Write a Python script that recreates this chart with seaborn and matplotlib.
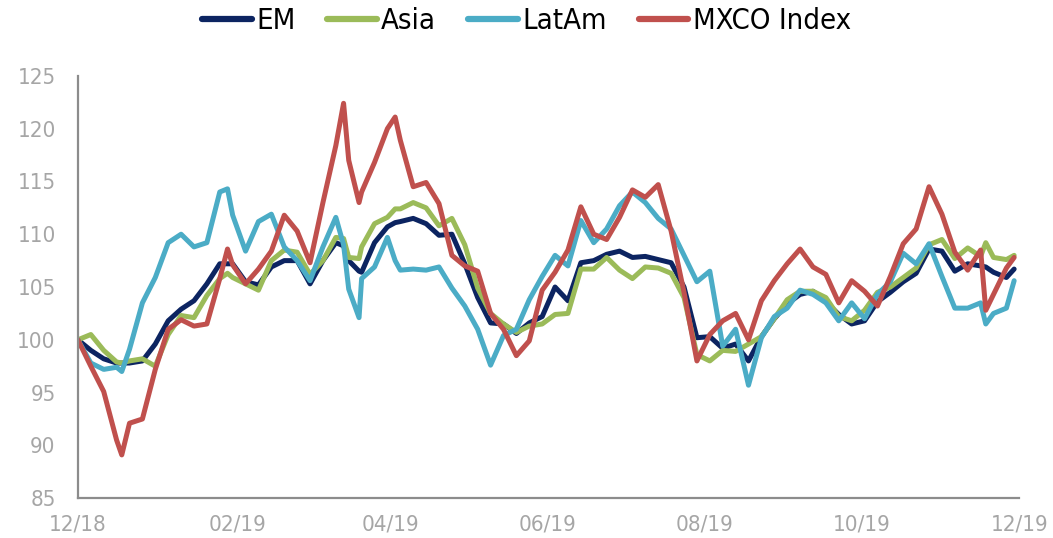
import pandas as pd
import seaborn as sns
import matplotlib.pyplot as plt
import matplotlib.dates as mdates
from matplotlib.lines import Line2D

# values (index, rebased to 100); days counted from 01-Dec-2018
day_offsets = [0, 5, 10, 15, 17, 20, 25, 30, 35, 40,
               45, 50, 55, 58, 60, 65, 70, 75, 80, 85,
               90, 95, 100, 103, 105, 109, 110, 115, 120, 123,
               125, 130, 135, 140, 145, 150, 155, 160, 165, 170,
               175, 180, 185, 190, 195, 200, 205, 210, 215, 220,
               225, 230, 235, 240, 245, 250, 255, 260, 265, 270,
               275, 280, 285, 290, 295, 300, 305, 310, 315, 320,
               325, 330, 335, 340, 345, 350, 352, 355, 360, 363]

em = [100.0, 99.0, 98.2, 97.8, 97.8, 97.8, 98.0, 99.6, 101.8, 102.9,
      103.7, 105.3, 107.2, 107.2, 107.2, 105.5, 105.2, 106.9, 107.5, 107.5,
      105.3, 107.5, 109.2, 108.9, 107.5, 106.5, 106.4, 109.2, 110.7, 111.1,
      111.2, 111.5, 111.0, 109.9, 110.0, 107.2, 104.0, 101.6, 101.5, 100.6,
      101.6, 102.2, 105.0, 103.7, 107.3, 107.5, 108.1, 108.4, 107.8, 107.9,
      107.6, 107.3, 105.0, 100.2, 100.3, 99.2, 99.6, 98.0, 100.3, 102.0,
      103.4, 104.3, 104.6, 103.6, 102.4, 101.5, 101.8, 103.6, 104.5, 105.5,
      106.3, 108.6, 108.4, 106.5, 107.2, 107.0, 106.9, 106.4, 105.9, 106.7]

asia = [100.0, 100.5, 99.0, 97.9, 97.8, 98.0, 98.2, 97.5, 100.5, 102.3,
        102.1, 104.2, 105.8, 106.3, 105.9, 105.3, 104.7, 107.5, 108.5, 108.3,
        106.2, 107.5, 109.7, 109.6, 107.8, 107.7, 108.8, 111.0, 111.6, 112.4,
        112.4, 113.0, 112.5, 110.8, 111.5, 109.0, 104.9, 102.5, 101.5, 100.7,
        101.3, 101.5, 102.4, 102.5, 106.7, 106.7, 107.8, 106.6, 105.8, 106.9,
        106.8, 106.3, 104.0, 98.6, 98.0, 99.0, 98.9, 99.6, 100.3, 102.0,
        103.8, 104.6, 104.6, 104.0, 102.2, 101.8, 102.8, 104.5, 105.0, 105.9,
        106.8, 109.0, 109.5, 107.7, 108.7, 107.9, 109.2, 107.8, 107.6, 108.0]

latam = [100.0, 97.8, 97.2, 97.4, 97.0, 99.1, 103.5, 105.9, 109.2, 110.0,
         108.8, 109.2, 114.0, 114.3, 111.8, 108.4, 111.2, 111.9, 108.8, 107.5,
         105.6, 108.8, 111.6, 109.0, 104.8, 102.1, 105.8, 106.9, 109.7, 107.5,
         106.6, 106.7, 106.6, 106.9, 104.9, 103.2, 101.0, 97.6, 100.4, 101.0,
         103.8, 106.0, 108.0, 107.0, 111.3, 109.2, 110.5, 112.7, 114.0, 113.0,
         111.5, 110.5, 108.0, 105.5, 106.5, 99.4, 101.0, 95.7, 100.2, 102.2,
         103.0, 104.7, 104.3, 103.5, 101.8, 103.5, 102.0, 104.3, 105.5, 108.2,
         107.2, 109.1, 106.0, 103.0, 103.0, 103.5, 101.5, 102.5, 103.0, 105.6]

mxco = [100.0, 97.5, 95.1, 90.5, 89.1, 92.1, 92.5, 97.2, 101.0, 101.9,
        101.3, 101.5, 105.8, 108.6, 107.1, 105.3, 106.7, 108.4, 111.8, 110.3,
        107.3, 113.0, 118.4, 122.4, 117.0, 113.0, 114.0, 116.8, 120.0, 121.1,
        118.9, 114.5, 114.9, 112.9, 108.0, 107.0, 106.5, 102.5, 101.0, 98.5,
        99.9, 104.7, 106.4, 108.5, 112.6, 110.0, 109.5, 111.6, 114.2, 113.5,
        114.7, 110.3, 104.5, 98.0, 100.5, 101.8, 102.5, 100.0, 103.7, 105.6,
        107.2, 108.6, 106.9, 106.2, 103.5, 105.6, 104.6, 103.2, 106.0, 109.1,
        110.5, 114.5, 111.9, 108.3, 106.6, 108.5, 102.8, 104.3, 106.8, 107.8]

series_names = ["EM", "Asia", "LatAm", "MXCO Index"]
colors = {"EM": "#0c2461", "Asia": "#9bbb59", "LatAm": "#4bacc6", "MXCO Index": "#c0504d"}

dates = pd.Timestamp("2018-12-01") + pd.to_timedelta(day_offsets, unit="D")
wide = pd.DataFrame({"date": dates, "EM": em, "Asia": asia, "LatAm": latam, "MXCO Index": mxco})
df = wide.melt(id_vars="date", var_name="series", value_name="value")

sns.set_style("white")
plt.rcParams["font.family"] = ["DejaVu Sans"]
plt.rcParams["font.stretch"] = "condensed"

fig = plt.figure(figsize=(10.53, 5.38), dpi=100)
ax = fig.add_axes([0.074, 0.074, 0.894, 0.785])

sns.lineplot(data=df, x="date", y="value", hue="series", hue_order=series_names,
             palette=colors, linewidth=3.6, legend=False, ax=ax)

ax.set_xlim(pd.Timestamp("2018-12-01"), pd.Timestamp("2019-12-01"))
ax.set_ylim(85, 125)
ax.set_yticks(range(85, 126, 5))
ax.set_xticks(pd.date_range("2018-12-01", "2019-12-01", freq="2MS"))
ax.xaxis.set_major_formatter(mdates.DateFormatter("%m/%y"))
ax.set_xlabel("")
ax.set_ylabel("")

for side in ["top", "right"]:
    ax.spines[side].set_visible(False)
for side in ["left", "bottom"]:
    ax.spines[side].set_color("#8c8c8c")
    ax.spines[side].set_linewidth(1.6)
ax.tick_params(axis="both", colors="#8c8c8c", labelcolor="#a6a6a6", labelsize=16,
               length=6, width=1.4, direction="out")
ax.tick_params(axis="x", pad=6)
ax.tick_params(axis="y", pad=10)

handles = [Line2D([0], [0], color=colors[s], linewidth=4.5) for s in series_names]
leg = fig.legend(handles, series_names, loc="upper center", bbox_to_anchor=(0.5, 1.035), ncol=4,
                 frameon=False, fontsize=21, handlelength=1.7, handletextpad=0.15,
                 columnspacing=1.1)
for t in leg.get_texts():
    t.set_color("black")

fig.savefig("out.png", dpi=100)
